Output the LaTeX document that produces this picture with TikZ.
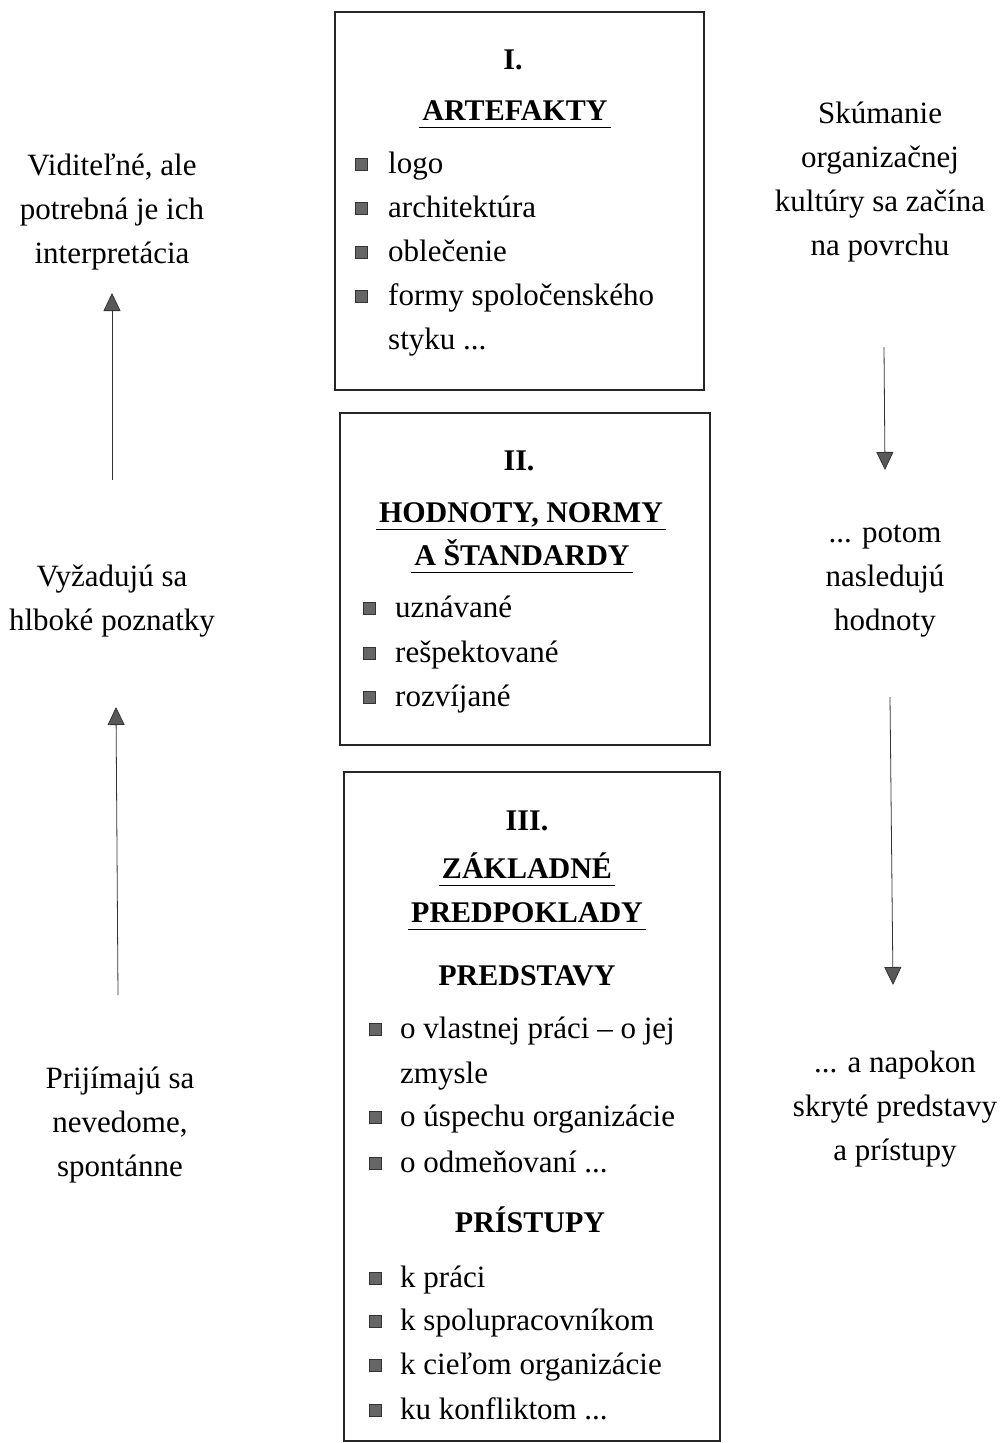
\documentclass[tikz,border=0pt]{standalone}
\usepackage{fontspec}
\setmainfont{Liberation Serif}
\usetikzlibrary{arrows.meta}

\tikzset{
  box/.style={draw=black!85, line width=1.1pt, inner sep=0pt},
  txt/.style={font=\fontsize{31}{44}\selectfont, align=center, inner sep=0pt},
  item/.style={font=\fontsize{31}{44}\selectfont, anchor=base west, inner sep=0pt},
  head/.style={font=\fontsize{30}{44}\selectfont\bfseries, anchor=base, inner xsep=3pt, inner ysep=0pt, text depth=7pt},
  sq/.style={draw=black!80, fill=black!60, minimum size=12.5pt, inner sep=0pt},
  uline/.style={line width=1.2pt},
  arr/.style={-{Triangle[width=17pt,length=18pt,fill=black!65]}, line width=0.8pt, draw=black!80}
}

\begin{document}
\begin{tikzpicture}[x=1pt,y=-1pt]
  \useasboundingbox (0,0) rectangle (1007,1443);

  % I. artefakty
  \node[box, minimum width=369pt, minimum height=378pt] (art) at (519.5,201) {};
  \node[head] (art-n) at (513,69) {I.};
  \node[head] (art-t) at (515,120) {ARTEFAKTY};
  \foreach \n/\y/\t in {1/173/logo, 2/217/architektúra, 3/261/oblečenie, 4/305/formy spoločenského} {
    \node[sq] (art-b\n) at (361,{\y-9}) {};
    \node[item] (art-i\n) at (388,\y) {\t};
  }
  \node[item] (art-i5) at (388,349) {styku ...};

  % II. hodnoty
  \node[box, minimum width=370pt, minimum height=332pt] (hod) at (525,579) {};
  \node[head] (hod-n) at (519,470) {II.};
  \node[head] (hod-t1) at (521,522) {HODNOTY, NORMY};
  \node[head] (hod-t2) at (522,565) {A ŠTANDARDY};
  \foreach \n/\y/\t in {1/617/uznávané, 2/662/rešpektované, 3/706/rozvíjané} {
    \node[sq] (hod-b\n) at (369,{\y-9}) {};
    \node[item] (hod-i\n) at (395,\y) {\t};
  }

  % III. zakladne predpoklady
  \node[box, minimum width=376pt, minimum height=669pt] (zak) at (532,1106.5) {};
  \node[head] (zak-n) at (527,830) {III.};
  \node[head] (zak-t1) at (527,878) {ZÁKLADNÉ};
  \node[head] (zak-t2) at (527,922) {PREDPOKLADY};
  \node[head] (zak-s1) at (527,985) {PREDSTAVY};
  \node[head] (zak-s2) at (530,1232) {PRÍSTUPY};
  \foreach \n/\y/\t in {1/1038/{o vlastnej práci – o jej}, 2/1126/{o úspechu organizácie},
      3/1172/{o odmeňovaní ...}, 4/1287/{k práci}, 5/1330/{k spolupracovníkom},
      6/1374/{k cieľom organizácie}, 7/1419/{ku konfliktom ...}} {
    \node[sq] (zak-b\n) at (375,{\y-9}) {};
    \node[item] (zak-i\n) at (400,\y) {\t};
  }
  \node[item] (zak-i8) at (400,1083) {zmysle};

  \begin{scope}[uline]
    \draw (art-t.south west) -- (art-t.south east);
    \draw (hod-t1.south west) -- (hod-t1.south east);
    \draw (hod-t2.south west) -- (hod-t2.south east);
    \draw (zak-t1.south west) -- (zak-t1.south east);
    \draw (zak-t2.south west) -- (zak-t2.south east);
  \end{scope}

  % side texts
  \node[txt] (vid) at (112,212) {Viditeľné, ale\\potrebná je ich\\interpretácia};
  \node[txt] (vyz) at (112,601) {Vyžadujú sa\\hlboké poznatky};
  \node[txt] (pri) at (120,1125) {Prijímajú sa\\nevedome,\\spontánne};
  \node[txt] (sku) at (880,182) {Skúmanie\\organizačnej\\kultúry sa začína\\na povrchu};
  \node[txt] (pot) at (885,581) {... potom\\nasledujú\\hodnoty};
  \node[txt] (nap) at (895,1109) {... a napokon\\skryté predstavy\\a prístupy};

  % arrows
  \coordinate (up1) at (112,480);
  \coordinate (up1e) at (112,293);
  \coordinate (up2) at (118,995);
  \coordinate (up2e) at (116,707);
  \coordinate (dn1) at (884,347);
  \coordinate (dn1e) at (885,470);
  \coordinate (dn2) at (890,697);
  \coordinate (dn2e) at (893,985);
  \begin{scope}[arr]
    \draw (up1) -- (up1e);
    \draw (up2) -- (up2e);
    \draw (dn1) -- (dn1e);
    \draw (dn2) -- (dn2e);
  \end{scope}
\end{tikzpicture}
\end{document}
